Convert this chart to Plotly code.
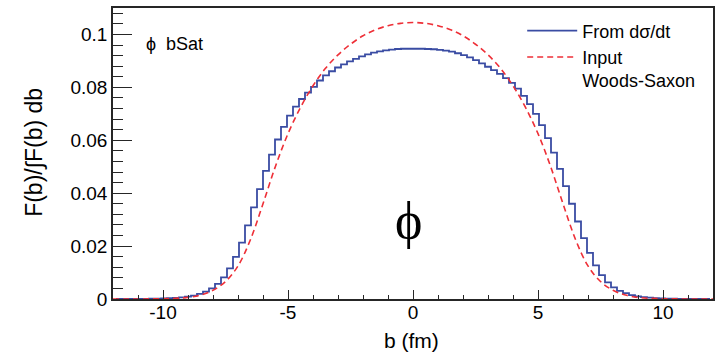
import plotly.graph_objects as go

# ---------------- data ----------------
bin_lo, bin_hi, n_bins = -12.0, 12.0, 100
bin_w = (bin_hi - bin_lo) / n_bins
bin_centers = [bin_lo + bin_w * (i + 0.5) for i in range(n_bins)]

# F(b)/∫F(b)db from dσ/dt (histogram, 100 bins on [-12,12])
hist_left = [0.00001, 0.00001, 0.00002, 0.00003, 0.00004, 0.00006, 0.00009, 0.00013, 0.0002, 0.0003,
             0.0004, 0.0006, 0.0009, 0.0013, 0.0019, 0.0028, 0.0040, 0.0057, 0.0082, 0.0116,
             0.0159, 0.0213, 0.0278, 0.0346, 0.0415, 0.0484, 0.0546, 0.0603, 0.0651, 0.0693,
             0.0727, 0.0756, 0.0780, 0.0802, 0.0826, 0.0845, 0.0861, 0.0875, 0.0887, 0.0898,
             0.0908, 0.0917, 0.0925, 0.0931, 0.0936, 0.0940, 0.0943, 0.0945, 0.0946, 0.0946]
hist_right = [0.0946, 0.0946, 0.0945, 0.0944, 0.0942, 0.0939, 0.0935, 0.0929, 0.0922, 0.0913,
              0.0903, 0.0891, 0.0878, 0.0865, 0.0851, 0.0835, 0.0817, 0.0795, 0.0768, 0.0737,
              0.0700, 0.0657, 0.0608, 0.0553, 0.0492, 0.0427, 0.0360, 0.0293, 0.0230, 0.0174,
              0.0127, 0.0090, 0.0063, 0.0044, 0.0031, 0.0022, 0.0015, 0.0010, 0.0007, 0.0005,
              0.0003, 0.0002, 0.00014, 0.0001, 0.00007, 0.00005, 0.00003, 0.00002, 0.00001, 0.00001]
hist_values = hist_left + hist_right

# Input Woods-Saxon (sampled)
ws_b = [-12, -11.5, -11, -10.5, -10, -9.5, -9, -8.5, -8, -7.5, -7, -6.5, -6, -5.5, -5, -4.5, -4,
        -3.5, -3, -2.5, -2, -1.5, -1, -0.5, 0, 0.5, 1, 1.5, 2, 2.5, 3, 3.5, 4, 4.5, 5, 5.5, 6,
        6.5, 7, 7.5, 8, 8.5, 9, 9.5, 10, 10.5, 11, 11.5, 12]
ws_val = [0.0, 0.00001, 0.00002, 0.00004, 0.0001, 0.00025, 0.0006, 0.0015, 0.0033, 0.0066, 0.0125,
          0.0225, 0.0360, 0.0502, 0.0625, 0.0724, 0.0806, 0.0872, 0.0923, 0.0963, 0.0995, 0.1018,
          0.1033, 0.1042, 0.1045, 0.1042, 0.1033, 0.1018, 0.0995, 0.0963, 0.0923, 0.0872, 0.0806,
          0.0724, 0.0625, 0.0502, 0.0360, 0.0225, 0.0125, 0.0066, 0.0033, 0.0015, 0.0006, 0.00025,
          0.0001, 0.00004, 0.00002, 0.00001, 0.0]

x_tickvals = [-10, -5, 0, 5, 10]
x_ticktext = ["-10", "-5", "0", "5", "10"]
y_tickvals = [0, 0.02, 0.04, 0.06, 0.08, 0.1]
y_ticktext = ["0", "0.02", "0.04", "0.06", "0.08", "0.1"]

# ---------------- figure ----------------
FONT = "Liberation Sans, Arial, sans-serif"
BLUE = "#3a4ca3"
RED = "#ee2f37"
AX = "#262626"

fig = go.Figure()
fig.add_trace(go.Scatter(
    x=bin_centers, y=hist_values, mode="lines", line_shape="hvh",
    line=dict(color=BLUE, width=1.8), name="From dσ/dt"))
fig.add_trace(go.Scatter(
    x=ws_b, y=ws_val, mode="lines", line_shape="spline",
    line=dict(color=RED, width=1.6, dash="6px,4px"), name="Input<br>Woods-Saxon"))

fig.update_layout(
    width=721, height=353,
    margin=dict(l=113, r=7, t=6, b=54),
    paper_bgcolor="white", plot_bgcolor="white",
    font=dict(family=FONT, size=19, color="black"),
    showlegend=True,
    legend=dict(x=0.682, y=0.985, xanchor="left", yanchor="top",
                bgcolor="rgba(0,0,0,0)", borderwidth=0,
                font=dict(family=FONT, size=18, color="black"),
                valign="top", tracegroupgap=0, itemwidth=50),
    xaxis=dict(range=[-12, 12], showgrid=False, zeroline=False,
               showline=True, linecolor=AX, linewidth=1.5, mirror=True,
               tickmode="array", tickvals=x_tickvals, ticktext=x_ticktext,
               ticks="inside", ticklen=9, tickwidth=1.3, tickcolor=AX,
               ticklabelstandoff=-5,
               minor=dict(ticks="inside", ticklen=4, tickwidth=1.1, tickcolor=AX,
                          tickmode="linear", tick0=0, dtick=1, showgrid=False),
               tickfont=dict(family=FONT, size=19)),
    yaxis=dict(range=[0, 0.11], showgrid=False, zeroline=False,
               showline=True, linecolor=AX, linewidth=1.5, mirror=True,
               tickmode="array", tickvals=y_tickvals, ticktext=y_ticktext,
               ticks="inside", ticklen=19, tickwidth=1.3, tickcolor=AX,
               ticklabelstandoff=0,
               minor=dict(ticks="inside", ticklen=10, tickwidth=1.1, tickcolor=AX,
                          tickmode="linear", tick0=0, dtick=0.004, showgrid=False),
               tickfont=dict(family=FONT, size=19)),
)

# axis titles
fig.add_annotation(text="b (fm)", xref="paper", yref="paper", x=0.497, y=-0.143,
                   xanchor="center", yanchor="middle", showarrow=False,
                   font=dict(family=FONT, size=21))
fig.add_annotation(text="F(b)/∫F(b) db", xref="paper", yref="paper", x=-0.132, y=0.505,
                   xanchor="center", yanchor="middle", textangle=-90, showarrow=False,
                   font=dict(family=FONT, size=23))
# labels
fig.add_annotation(text="ϕ  bSat", xref="paper", yref="paper", x=0.052, y=0.877,
                   xanchor="left", yanchor="middle", showarrow=False,
                   font=dict(family=FONT, size=18))
fig.add_annotation(text="ϕ", xref="paper", yref="paper", x=0.492, y=0.27,
                   xanchor="center", yanchor="middle", showarrow=False,
                   font=dict(family="Liberation Serif, Times New Roman, serif", size=52))

fig.write_html("out.html", config={"displayModeBar": False},
               post_script="document.body.style.margin='0';document.body.style.overflow='hidden';")
